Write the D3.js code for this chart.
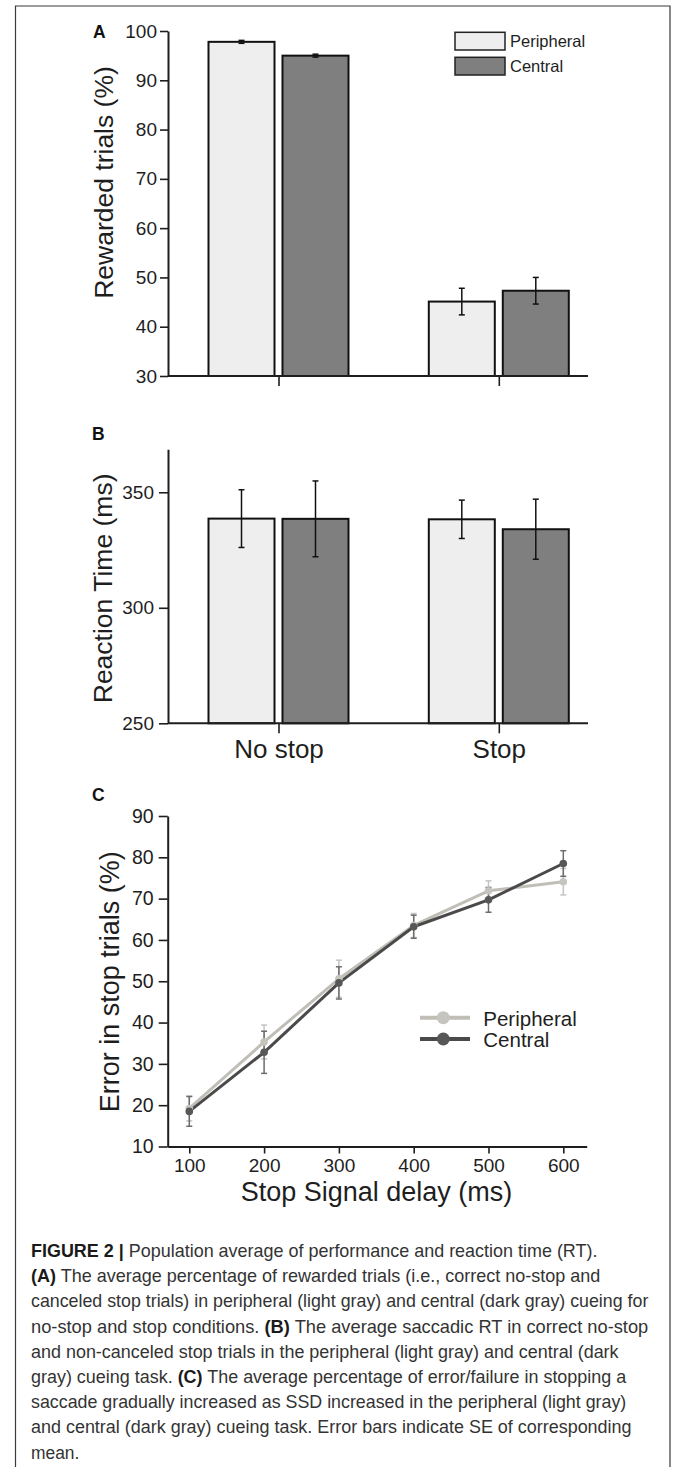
<!DOCTYPE html>
<html>
<head>
<meta charset="utf-8">
<script src="https://cdn.jsdelivr.net/npm/d3@7"></script>
<style>
  html, body { margin: 0; padding: 0; background: #fff; }
  svg { display: block; font-family: "Liberation Sans", Arial, Helvetica, sans-serif; }
</style>
</head>
<body>
<svg id="fig" width="673" height="1467"></svg>
<script>
// ---------------- DATA ----------------
const conditions = ["No stop", "Stop"];
const cueing = ["Peripheral", "Central"];

const rewardedPeripheral   = [97.8, 45.1];
const rewardedPeripheralSE = [0.3, 2.7];
const rewardedCentral      = [95.0, 47.3];
const rewardedCentralSE    = [0.3, 2.7];

const rtPeripheral   = [338.6, 338.3];
const rtPeripheralSE = [12.5, 8.3];
const rtCentral      = [338.5, 334.0];
const rtCentralSE    = [16.4, 13.0];

const ssd = [100, 200, 300, 400, 500, 600];
const errorPeripheral   = [19.2, 35.3, 50.6, 63.5, 71.9, 74.1];
const errorPeripheralSE = [3.0, 4.1, 4.5, 2.9, 2.4, 3.2];
const errorCentral      = [18.5, 32.8, 49.6, 63.2, 69.7, 78.5];
const errorCentralSE    = [3.6, 5.1, 3.9, 2.8, 3.0, 3.1];

const yTicksA = [30, 40, 50, 60, 70, 80, 90, 100];
const yTicksB = [250, 300, 350];
const yTicksC = [10, 20, 30, 40, 50, 60, 70, 80, 90];

const captionLines = [
  [["FIGURE 2 | ", true], ["Population average of performance and reaction time (RT).", false]],
  [["(A)", true], [" The average percentage of rewarded trials (i.e., correct no-stop and", false]],
  [["canceled stop trials) in peripheral (light gray) and central (dark gray) cueing for", false]],
  [["no-stop and stop conditions. ", false], ["(B)", true], [" The average saccadic RT in correct no-stop", false]],
  [["and non-canceled stop trials in the peripheral (light gray) and central (dark", false]],
  [["gray) cueing task. ", false], ["(C)", true], [" The average percentage of error/failure in stopping a", false]],
  [["saccade gradually increased as SSD increased in the peripheral (light gray)", false]],
  [["and central (dark gray) cueing task. Error bars indicate SE of corresponding", false]],
  [["mean.", false]]
];

// ---------------- LAYOUT / STYLE ----------------
const svg = d3.select("#fig");
const INK = "#1e1e1e";
const fillColor = { Peripheral: "#eeeeee", Central: "#7f7f7f" };
const lineColor = { Peripheral: "#c0beb7", Central: "#4a4a4a" };
const dotColor  = { Peripheral: "#c6c4be", Central: "#575757" };
const errColor  = { Peripheral: "#c4c4c4", Central: "#6c6c6c" };

// frame
svg.append("path")
  .attr("d", "M15.5,1467 L15.5,6 L670,6 L670,1467")
  .attr("fill", "none").attr("stroke", "#3a3a3a").attr("stroke-width", 1.2);

const xLeft = 168, xRight = 588;
const xCat = d3.scalePoint().domain(conditions).range([278.5, 498.8]);
const xSub = d3.scaleBand().domain(cueing).range([-70, 70]).paddingInner(0.108);

function styleAxis(g, fs) {
  g.selectAll("path.domain").attr("stroke", INK).attr("stroke-width", 2);
  g.selectAll(".tick line").attr("stroke", INK).attr("stroke-width", 1.6);
  g.selectAll(".tick text").attr("fill", INK).attr("font-size", fs)
    .attr("font-family", "'Liberation Sans', Arial, sans-serif");
}

function panelLabel(t, x, y) {
  svg.append("text").text(t).attr("x", x).attr("y", y)
    .attr("font-size", 17.5).attr("font-weight", "bold").attr("fill", "#111");
}

function yTitle(t, x, cy, fs) {
  svg.append("text").text(t)
    .attr("transform", `translate(${x},${cy}) rotate(-90)`)
    .attr("text-anchor", "middle").attr("font-size", fs).attr("fill", INK);
}

function barPanel(yScale, ticks, tickSize, tickPad, per, perSE, cen, cenSE, showLabels) {
  const y0 = yScale.range()[0];
  const data = [];
  conditions.forEach((c, i) => {
    data.push({ c, k: "Peripheral", v: per[i], se: perSE[i] });
    data.push({ c, k: "Central", v: cen[i], se: cenSE[i] });
  });
  const g = svg.append("g");
  g.selectAll("rect").data(data).join("rect")
    .attr("x", d => xCat(d.c) + xSub(d.k))
    .attr("width", xSub.bandwidth())
    .attr("y", d => yScale(d.v))
    .attr("height", d => y0 - yScale(d.v))
    .attr("fill", d => fillColor[d.k])
    .attr("stroke", "#111").attr("stroke-width", 2);
  const eg = g.selectAll("g.err").data(data).join("g").attr("class", "err")
    .attr("stroke", "#111").attr("stroke-width", 1.5);
  const cx = d => xCat(d.c) + xSub(d.k) + xSub.bandwidth() / 2;
  eg.append("line").attr("x1", cx).attr("x2", cx)
    .attr("y1", d => yScale(d.v + d.se)).attr("y2", d => yScale(d.v - d.se));
  eg.append("line").attr("x1", d => cx(d) - 3).attr("x2", d => cx(d) + 3)
    .attr("y1", d => yScale(d.v + d.se)).attr("y2", d => yScale(d.v + d.se));
  eg.append("line").attr("x1", d => cx(d) - 3).attr("x2", d => cx(d) + 3)
    .attr("y1", d => yScale(d.v - d.se)).attr("y2", d => yScale(d.v - d.se));

  const ya = svg.append("g").attr("transform", `translate(${xLeft},0)`)
    .call(d3.axisLeft(yScale).tickValues(ticks).tickSize(tickSize).tickSizeOuter(0).tickPadding(tickPad));
  styleAxis(ya, 19);
  const xa = svg.append("g").attr("transform", `translate(0,${y0})`)
    .call(d3.axisBottom(xCat).tickSize(10).tickSizeOuter(0).tickPadding(9)
      .tickFormat(showLabels ? (d => d) : () => ""));
  xa.select("path.domain").remove();
  xa.append("line").attr("x1", xLeft).attr("x2", xRight).attr("y1", 0).attr("y2", 0)
    .attr("stroke", INK).attr("stroke-width", 2);
  styleAxis(xa, 26);
  xa.selectAll(".tick text").attr("dy", "0.71em").attr("y", 16);
}

// ---------------- PANEL A ----------------
const yA = d3.scaleLinear().domain([30, 100]).range([376, 31]);
barPanel(yA, yTicksA, 8, 3, rewardedPeripheral, rewardedPeripheralSE, rewardedCentral, rewardedCentralSE, false);
panelLabel("A", 93, 37.5);
yTitle("Rewarded trials (%)", 112.5, 182.5, 26.5);

const legA = svg.append("g");
cueing.forEach((k, i) => {
  const yy = 32.3 + i * 25;
  legA.append("rect").attr("x", 455).attr("y", yy).attr("width", 50).attr("height", 17.7)
    .attr("fill", fillColor[k]).attr("stroke", "#222").attr("stroke-width", 1.5);
  legA.append("text").text(k).attr("x", 510).attr("y", yy + 14.4)
    .attr("font-size", 16.5).attr("fill", INK);
});

// ---------------- PANEL B ----------------
const yB = d3.scaleLinear().domain([250, 368.6]).range([723.3, 449.3]);
barPanel(yB, yTicksB, 9, 5, rtPeripheral, rtPeripheralSE, rtCentral, rtCentralSE, true);
panelLabel("B", 92, 440);
yTitle("Reaction Time (ms)", 112, 588.4, 26.5);

// ---------------- PANEL C ----------------
const xCbase = d3.scaleLinear().domain([100, 600]).range([189.3, 563.3]);
const xC = d3.scaleLinear().domain([xCbase.invert(167.7), xCbase.invert(586.7)]).range([167.7, 586.7]);
const yC = d3.scaleLinear().domain([10, 90]).range([1146.5, 816]);

const series = [
  { k: "Peripheral", v: errorPeripheral, se: errorPeripheralSE },
  { k: "Central", v: errorCentral, se: errorCentralSE }
];
const lineGen = d3.line().x(d => xC(d[0])).y(d => yC(d[1]));
series.forEach(s => {
  svg.append("path").datum(ssd.map((x, i) => [x, s.v[i]]))
    .attr("d", lineGen).attr("fill", "none")
    .attr("stroke", lineColor[s.k]).attr("stroke-width", 3).attr("stroke-linejoin", "round");
});
series.forEach(s => {
  const eg = svg.append("g").attr("stroke", errColor[s.k]).attr("stroke-width", 1.5);
  ssd.forEach((x, i) => {
    const cx = xC(x), top = yC(s.v[i] + s.se[i]), bot = yC(s.v[i] - s.se[i]);
    eg.append("line").attr("x1", cx).attr("x2", cx).attr("y1", top).attr("y2", bot);
    eg.append("line").attr("x1", cx - 3).attr("x2", cx + 3).attr("y1", top).attr("y2", top);
    eg.append("line").attr("x1", cx - 3).attr("x2", cx + 3).attr("y1", bot).attr("y2", bot);
  });
});
series.forEach(s => {
  svg.append("g").selectAll("circle").data(ssd.map((x, i) => [x, s.v[i]])).join("circle")
    .attr("cx", d => xC(d[0])).attr("cy", d => yC(d[1])).attr("r", 3.8)
    .attr("fill", dotColor[s.k]);
});

const yaC = svg.append("g").attr("transform", "translate(167.7,0)")
  .call(d3.axisLeft(yC).tickValues(yTicksC).tickSize(9).tickSizeOuter(0).tickPadding(5));
styleAxis(yaC, 19.5);
const xaC = svg.append("g").attr("transform", "translate(0,1146.5)")
  .call(d3.axisBottom(xC).tickValues(ssd).tickSize(7).tickSizeOuter(0).tickPadding(5));
styleAxis(xaC, 19);

panelLabel("C", 92, 800.7);
yTitle("Error in stop trials (%)", 118.5, 981.7, 27);
svg.append("text").text("Stop Signal delay (ms)")
  .attr("x", 376.5).attr("y", 1200.5).attr("text-anchor", "middle")
  .attr("font-size", 27).attr("fill", INK);

cueing.forEach((k, i) => {
  const yy = i === 0 ? 1017.7 : 1039;
  svg.append("line").attr("x1", 420).attr("x2", 470).attr("y1", yy).attr("y2", yy)
    .attr("stroke", lineColor[k]).attr("stroke-width", 4);
  svg.append("circle").attr("cx", 443.3).attr("cy", yy).attr("r", 6.5).attr("fill", dotColor[k]);
  svg.append("text").text(k).attr("x", 483.3).attr("y", yy + 8)
    .attr("font-size", 20.5).attr("fill", INK);
});

// ---------------- CAPTION ----------------
const capX = 31, capY0 = 1257, capStep = 25.2;
const capEnds = [598, 601, 649, 649, 619, 626.6, 626.6, 632, 79.4];
captionLines.forEach((parts, i) => {
  const t = svg.append("text").attr("x", capX).attr("y", capY0 + i * capStep)
    .attr("font-size", 17.5).attr("fill", "#333");
  parts.forEach(([str, bold]) => {
    t.append("tspan").text(str)
      .attr("font-weight", bold ? "bold" : "normal")
      .attr("fill", bold ? "#1a1a1a" : "#333");
  });
  const w = t.node().getComputedTextLength();
  const s = (capEnds[i] - capX) / w;
  t.attr("transform", `translate(${capX},0) scale(${s},1) translate(${-capX},0)`);
});
</script>
</body>
</html>
